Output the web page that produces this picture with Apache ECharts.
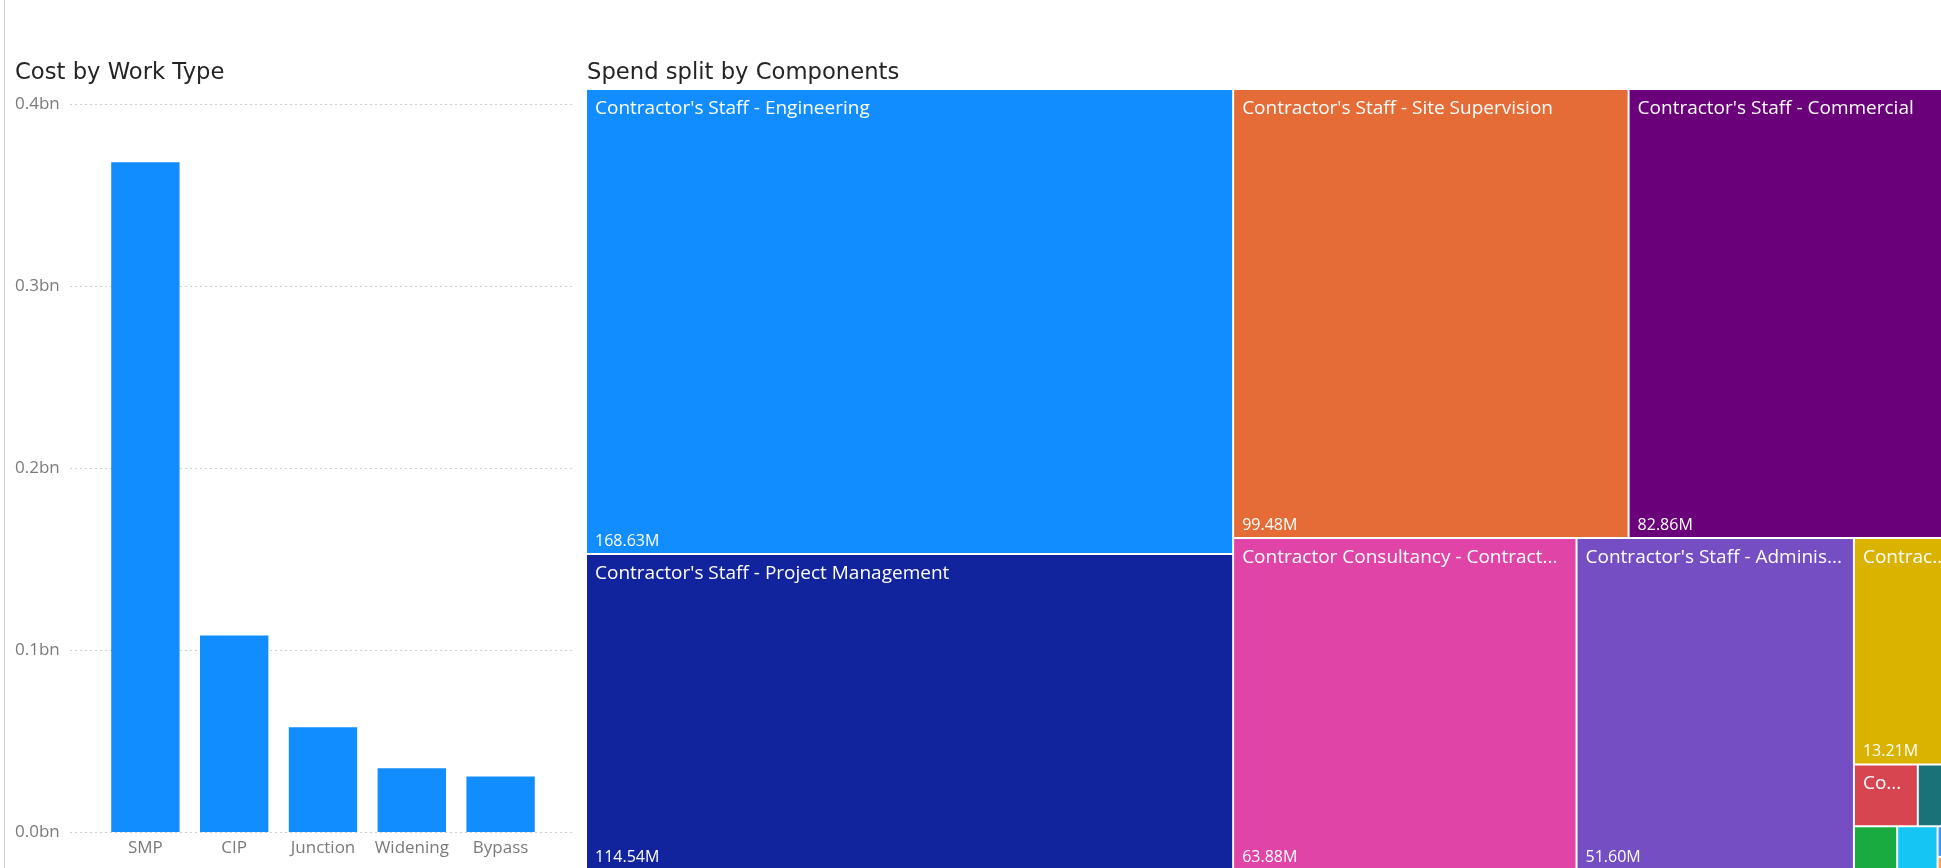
<!DOCTYPE html>
<html>
<head>
<meta charset="utf-8">
<script src="https://cdn.jsdelivr.net/npm/echarts@6/dist/echarts.min.js"></script>
<style>
html,body{margin:0;padding:0;background:#ffffff;}
#c{width:1941px;height:868px;}
</style>
</head>
<body>
<div id="c"></div>
<script>
// ---- data ----
const workTypes = ['SMP', 'CIP', 'Junction', 'Widening', 'Bypass'];
const workCostBn = [0.368, 0.108, 0.0575, 0.035, 0.0305];
const yTicksBn = [0, 0.1, 0.2, 0.3, 0.4];

const componentNames = [
  "Contractor's Staff - Engineering",
  "Contractor's Staff - Project Management",
  "Contractor's Staff - Site Supervision",
  "Contractor's Staff - Commercial",
  "Contractor Consultancy - Contractual Advice",
  "Contractor's Staff - Administration",
  "Contractor's Staff - Quality",
  "Contractor Consultancy - Design",
  "Contractor's Staff - Health & Safety",
  "Contractor Consultancy - Surveys",
  "Contractor's Staff - Environmental",
  "Contractor's Staff - Other",
  "Contractor Consultancy - Other"
];
const componentSpendM = [168.63, 114.54, 99.48, 82.86, 63.88, 51.60, 13.21, 2.21, 1.39, 1.06, 0.99, 0.35, 0.15];

// ---- style ----
const palette = ['#118DFF', '#12239E', '#E66C37', '#6B007B', '#E044A7', '#744EC2', '#D9B300',
                 '#D64550', '#197278', '#1AAB40', '#15C6F4', '#4092FF', '#FFA058'];
const uiFont = "'Segoe UI', 'Open Sans', 'Noto Sans', sans-serif";
const titleFont = "'DejaVu Sans', sans-serif";
const axisGrey = '#7a7a7a';

const chart = echarts.init(document.getElementById('c'), null, { renderer: 'canvas' });

const treeColored = componentNames.map((n, i) => ({
  name: n, value: componentSpendM[i], itemStyle: { color: palette[i % palette.length] }
}));
const treeClear = componentNames.map((n, i) => ({
  name: n, value: componentSpendM[i], itemStyle: { color: 'rgba(0,0,0,0)' }
}));

const treeBox = { left: 587, top: 90, width: 1370, height: 779 };

const treemapCommon = Object.assign({
  type: 'treemap',
  roam: false,
  nodeClick: false,
  breadcrumb: { show: false },
  sort: 'desc',
  animation: false,
  upperLabel: { show: false },
  emphasis: { disabled: true }
}, treeBox);

const yMin = yTicksBn[0], yMax = yTicksBn[yTicksBn.length - 1], yStep = yTicksBn[1] - yTicksBn[0];

const titleStyle = { fontFamily: titleFont, fontSize: 22.7, fontWeight: 'normal', color: '#252423' };

const option = {
  animation: false,
  backgroundColor: '#ffffff',
  title: [
    { text: 'Cost by Work Type', left: 15, top: 62, padding: 0, textStyle: titleStyle },
    { text: 'Spend split by Components', left: 587, top: 62, padding: 0, textStyle: titleStyle }
  ],
  graphic: [
    { type: 'line', shape: { x1: 4.5, y1: 0, x2: 4.5, y2: 868 }, style: { stroke: '#cccccc', lineWidth: 1 }, silent: true }
  ],
  grid: [
    { left: 101, right: 1941 - 545, top: 104, bottom: 36 },
    { left: 70, right: 1941 - 573, top: 104, bottom: 36 }
  ],
  xAxis: [
    { type: 'category', gridIndex: 0, data: workTypes,
      axisLine: { show: false }, axisTick: { show: false },
      axisLabel: { interval: 0, color: axisGrey, fontFamily: uiFont, fontSize: 17, margin: 8 } },
    { type: 'category', gridIndex: 1, data: workTypes, show: false }
  ],
  yAxis: [
    { type: 'value', gridIndex: 0, min: yMin, max: yMax, interval: yStep, show: false, splitLine: { show: false } },
    { type: 'value', gridIndex: 1, min: yMin, max: yMax, interval: yStep,
      axisLine: { show: false }, axisTick: { show: false },
      axisLabel: { formatter: v => v.toFixed(1) + 'bn', align: 'left', margin: 55,
                   color: axisGrey, fontFamily: uiFont, fontSize: 17 },
      splitLine: { show: true, lineStyle: { color: '#cfcfcf', width: 1, type: [2, 3] } } }
  ],
  series: [
    { type: 'bar', xAxisIndex: 0, yAxisIndex: 0, data: workCostBn,
      barCategoryGap: '23%', itemStyle: { color: '#118DFF' }, z: 3 },
    Object.assign({}, treemapCommon, {
      name: 'components',
      data: treeColored,
      itemStyle: { gapWidth: 2, borderWidth: 0, borderColor: '#ffffff' },
      label: {
        show: true, position: 'insideTopLeft', distance: 0,
        padding: [9, 8, 4, 8],
        color: '#ffffff', fontFamily: uiFont, fontSize: 19,
        overflow: 'truncate', ellipsis: '...',
        formatter: p => (p.value >= 2 ? p.name : '')
      }
    }),
    Object.assign({}, treemapCommon, {
      name: 'componentValues',
      silent: true,
      data: treeClear,
      itemStyle: { gapWidth: 2, borderWidth: 0, borderColor: 'rgba(0,0,0,0)', color: 'rgba(0,0,0,0)' },
      label: {
        show: true, position: 'insideBottomLeft', distance: 0,
        padding: [4, 8, 4, 8],
        color: '#ffffff', fontFamily: uiFont, fontSize: 16,
        formatter: p => (p.value >= 5 ? p.value.toFixed(2) + 'M' : '')
      }
    })
  ]
};

chart.setOption(option);
</script>
</body>
</html>
